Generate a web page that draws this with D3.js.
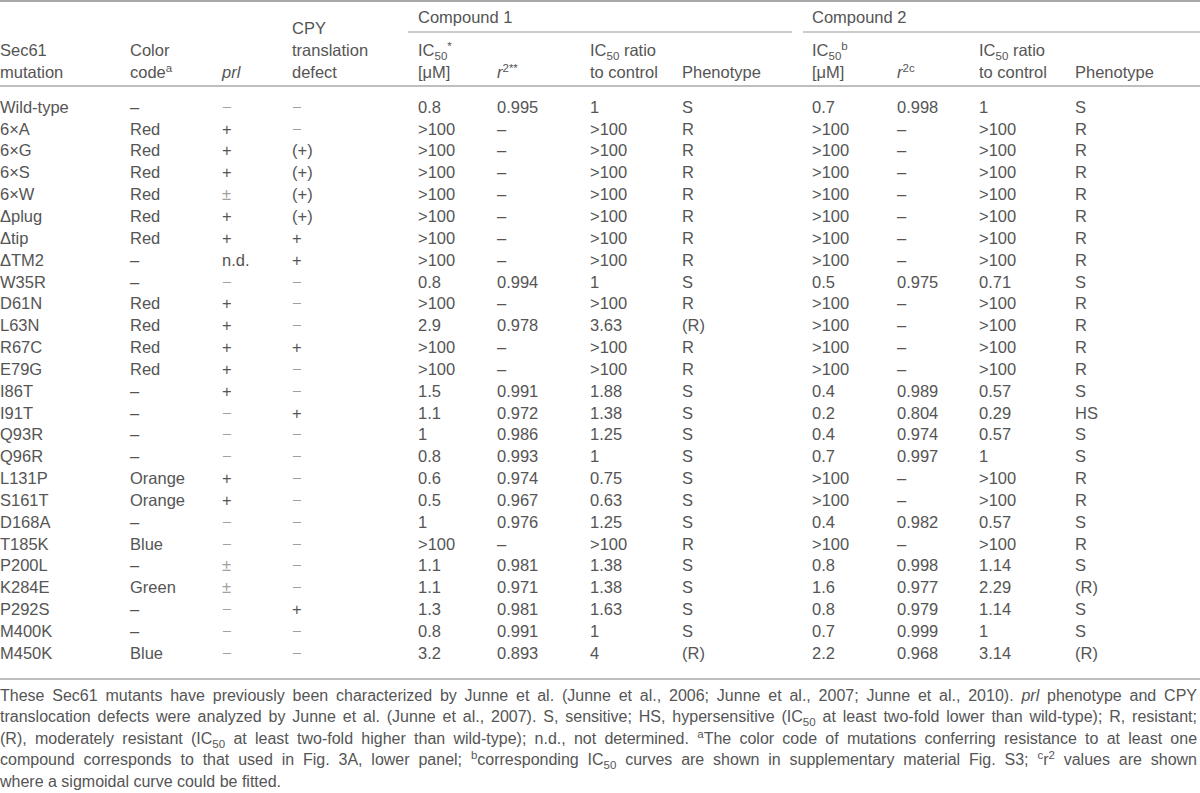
<!DOCTYPE html>
<html><head><meta charset="utf-8">
<script src="https://cdn.jsdelivr.net/npm/d3@7"></script>
<style>
body{margin:0;background:#fff}
svg{display:block}
text{font-family:"Liberation Sans",Arial,Helvetica,sans-serif;fill:#555;font-size:16.5px}
</style>
</head><body>
<svg id="chart" width="1200" height="793"></svg>
<script>
// ---------- data ----------
const mutations = ["Wild-type","6×A","6×G","6×S","6×W","Δplug","Δtip","ΔTM2","W35R","D61N","L63N","R67C","E79G","I86T","I91T","Q93R","Q96R","L131P","S161T","D168A","T185K","P200L","K284E","P292S","M400K","M450K"];
const colorCode = ["–","Red","Red","Red","Red","Red","Red","–","–","Red","Red","Red","Red","–","–","–","–","Orange","Orange","–","Blue","–","Green","–","–","Blue"];
const prl = ["−","+","+","+","±","+","+","n.d.","−","+","+","+","+","+","−","−","−","+","+","−","−","±","±","−","−","−"];
const cpyDefect = ["−","−","(+)","(+)","(+)","(+)","+","+","−","−","−","+","−","−","+","−","−","−","−","−","−","−","−","+","−","−"];
const c1IC50 = ["0.8",">100",">100",">100",">100",">100",">100",">100","0.8",">100","2.9",">100",">100","1.5","1.1","1","0.8","0.6","0.5","1",">100","1.1","1.1","1.3","0.8","3.2"];
const c1R2 = ["0.995","–","–","–","–","–","–","–","0.994","–","0.978","–","–","0.991","0.972","0.986","0.993","0.974","0.967","0.976","–","0.981","0.971","0.981","0.991","0.893"];
const c1Ratio = ["1",">100",">100",">100",">100",">100",">100",">100","1",">100","3.63",">100",">100","1.88","1.38","1.25","1","0.75","0.63","1.25",">100","1.38","1.38","1.63","1","4"];
const c1Pheno = ["S","R","R","R","R","R","R","R","S","R","(R)","R","R","S","S","S","S","S","S","S","R","S","S","S","S","(R)"];
const c2IC50 = ["0.7",">100",">100",">100",">100",">100",">100",">100","0.5",">100",">100",">100",">100","0.4","0.2","0.4","0.7",">100",">100","0.4",">100","0.8","1.6","0.8","0.7","2.2"];
const c2R2 = ["0.998","–","–","–","–","–","–","–","0.975","–","–","–","–","0.989","0.804","0.974","0.997","–","–","0.982","–","0.998","0.977","0.979","0.999","0.968"];
const c2Ratio = ["1",">100",">100",">100",">100",">100",">100",">100","0.71",">100",">100",">100",">100","0.57","0.29","0.57","1",">100",">100","0.57",">100","1.14","2.29","1.14","1","3.14"];
const c2Pheno = ["S","R","R","R","R","R","R","R","S","R","R","R","R","S","HS","S","S","R","R","S","R","S","(R)","S","S","(R)"];

const columnKeys = ["mutation","colorCode","prl","cpy","c1IC50","c1R2","c1Ratio","c1Pheno","c2IC50","c2R2","c2Ratio","c2Pheno"];
const columnData = [mutations,colorCode,prl,cpyDefect,c1IC50,c1R2,c1Ratio,c1Pheno,c2IC50,c2R2,c2Ratio,c2Pheno];

const groupLabels = ["Compound 1","Compound 2"];

const footnoteLines = [
  [{t:"These Sec61 mutants have previously been characterized by Junne et al. (Junne et al., 2006; Junne et al., 2007; Junne et al., 2010). "},{t:"prl",i:1},{t:" phenotype and CPY"}],
  [{t:"translocation defects were analyzed by Junne et al. (Junne et al., 2007). S, sensitive; HS, hypersensitive (IC"},{t:"50",sub:1},{t:" at least two-fold lower than wild-type); R, resistant;"}],
  [{t:"(R), moderately resistant (IC"},{t:"50",sub:1},{t:" at least two-fold higher than wild-type); n.d., not determined. "},{t:"a",sup:1},{t:"The color code of mutations conferring resistance to at least one"}],
  [{t:"compound corresponds to that used in Fig. 3A, lower panel; "},{t:"b",sup:1},{t:"corresponding IC"},{t:"50",sub:1},{t:" curves are shown in supplementary material Fig. S3; "},{t:"c",sup:1},{t:"r"},{t:"2",sup:1},{t:" values are shown"}],
  [{t:"where a sigmoidal curve could be fitted."}]
];

// ---------- layout ----------
const svg = d3.select("#chart");
const W = 1200;
const x = d3.scaleOrdinal().domain(columnKeys).range([0,130,222,292,418,497,590,682,812,897,979,1075]);
const y = d3.scaleBand().domain(mutations).range([96.1, 663.9]);
const gray = "#555";

function rich(t, segs){
  let off = 0;
  segs.forEach(s=>{
    const ts = t.append("tspan").text(s.t);
    let target = 0;
    if (s.sub) { ts.attr("font-size", "11.5px"); target = 4; }
    if (s.sup) { ts.attr("font-size", "11.5px"); target = -6; }
    if (s.i) ts.attr("font-style","italic");
    if (target !== off) { ts.attr("dy", target - off); off = target; }
  });
  return t;
}

// rules
const rule = (y0, x0, x1, w, c) => svg.append("line").attr("x1",x0).attr("x2",x1).attr("y1",y0).attr("y2",y0)
  .attr("stroke",c).attr("stroke-width",w);
rule(1, 0, W, 2, "#a8a8a8");
rule(86, 0, W, 1.5, "#a8a8a8");
rule(679, 0, W, 1.5, "#a8a8a8");
const groupSpan = [[x("c1IC50")-10, 792],[x("c2IC50")-9, W]];
groupSpan.forEach(g=>rule(32, g[0], g[1], 1, "#999"));

// group headers
svg.selectAll("text.group").data(groupLabels).join("text").attr("class","group")
  .attr("x",(d,i)=>x(i===0?"c1IC50":"c2IC50")).attr("y",17).attr("dy","0.35em").text(d=>d);

// column headers
const headers = [
  {k:"mutation", lines:[[{t:"Sec61"}],[{t:"mutation"}]]},
  {k:"colorCode", lines:[[{t:"Color"}],[{t:"code"},{t:"a",sup:1}]]},
  {k:"prl", lines:[[],[{t:"prl",i:1}]]},
  {k:"cpy", lines:[[{t:"CPY"}],[{t:"translation"}],[{t:"defect"}]], top:28},
  {k:"c1IC50", lines:[[{t:"IC"},{t:"50",sub:1},{t:"*",sup:1}],[{t:"[μM]"}]]},
  {k:"c1R2", lines:[[],[{t:"r",i:1},{t:"2**",sup:1}]]},
  {k:"c1Ratio", lines:[[{t:"IC"},{t:"50",sub:1},{t:" ratio"}],[{t:"to control"}]]},
  {k:"c1Pheno", lines:[[],[{t:"Phenotype"}]]},
  {k:"c2IC50", lines:[[{t:"IC"},{t:"50",sub:1},{t:"b",sup:1}],[{t:"[μM]"}]]},
  {k:"c2R2", lines:[[],[{t:"r",i:1},{t:"2c",sup:1}]]},
  {k:"c2Ratio", lines:[[{t:"IC"},{t:"50",sub:1},{t:" ratio"}],[{t:"to control"}]]},
  {k:"c2Pheno", lines:[[],[{t:"Phenotype"}]]}
];
headers.forEach(h=>{
  const top = h.top || 50;
  h.lines.forEach((segs,li)=>{
    if (!segs.length) return;
    const t = svg.append("text").attr("x", x(h.k)).attr("y", top + li*22).attr("dy","0.35em");
    rich(t, segs);
  });
});

// body cells
const cells = [];
columnKeys.forEach((k,ci)=>{
  columnData[ci].forEach((v,ri)=>cells.push({k, row:mutations[ri], v}));
});
svg.append("g").selectAll("text").data(cells).join("text")
  .attr("x", d=>x(d.k))
  .attr("y", d=>y(d.row)+y.bandwidth()/2)
  .attr("dy","0.35em")
  .style("fill", d=>(d.v==="−"||d.v==="±")?"#a0a0a0":gray)
  .text(d=>d.v);

// footnote
const fy = d3.scaleLinear().domain([0,4]).range([695,781]);
footnoteLines.forEach((segs,i)=>{
  const t = svg.append("text").attr("x",0).attr("y",fy(i)).attr("dy","0.35em").style("font-size","16px");
  rich(t, segs);
  if (i < 4) {
    const w = t.node().getComputedTextLength();
    const spaces = segs.map(s=>s.t).join("").split(" ").length - 1;
    t.attr("word-spacing", ((1197 - w)/spaces).toFixed(3));
  }
});
</script>
</body></html>
